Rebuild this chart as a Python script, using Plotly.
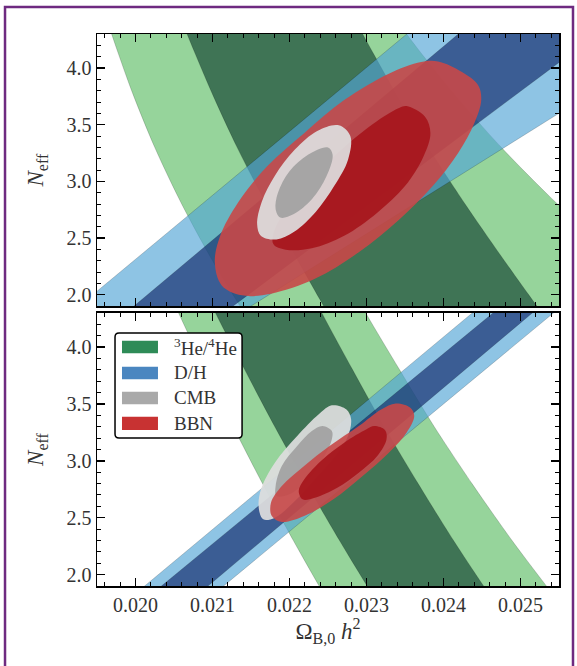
import plotly.graph_objects as go

# ---------------- data ----------------
X_RANGE = [0.0195, 0.0255]
Y_RANGE = [1.9, 4.3]
X_TICKS = [0.020, 0.021, 0.022, 0.023, 0.024, 0.025]
X_TICK_TEXT = ["0.020", "0.021", "0.022", "0.023", "0.024", "0.025"]
Y_TICKS = [2.0, 2.5, 3.0, 3.5, 4.0]
Y_TICK_TEXT = ["2.0", "2.5", "3.0", "3.5", "4.0"]

# band edges are sampled at these N_eff levels (top -> bottom)
EDGE_Y_DOWN = [4.8, 4.3, 3.8, 3.3, 2.8, 2.3, 1.8, 1.3]
EDGE_Y_UP = [1.3, 1.8, 2.3, 2.8, 3.3, 3.8, 4.3, 4.8]

# ---- top panel ----
# 3He/4He 2-sigma band (light green): left edge (top->bottom), right edge (bottom->top)
HE_TOP_OUT_LEFT_X = [0.01945, 0.01969, 0.01995, 0.02025, 0.02060, 0.02100, 0.02145, 0.02195]
HE_TOP_OUT_RIGHT_X = [0.02820, 0.02720, 0.02630, 0.02548, 0.02475, 0.02410, 0.02352, 0.02300]
# 3He/4He 1-sigma band (dark green)
HE_TOP_IN_LEFT_X = [0.02038, 0.02067, 0.02098, 0.02132, 0.02170, 0.02211, 0.02253, 0.02298]
HE_TOP_IN_RIGHT_X = [0.02588, 0.02532, 0.02479, 0.02428, 0.02380, 0.02336, 0.02295, 0.02256]
# D/H bands
DH_TOP_OUT_X = [0.01856, 0.02441, 0.02832, 0.02056]
DH_TOP_OUT_Y = [1.5, 4.8, 4.8, 1.5]
DH_TOP_IN_X = [0.01928, 0.02507, 0.02698, 0.02048]
DH_TOP_IN_Y = [1.5, 4.8, 4.8, 1.5]
# BBN ellipses
BBN_TOP_OUT_X = [0.02393, 0.02424, 0.02445, 0.02449, 0.02440, 0.02419, 0.02386,
                 0.02343, 0.02290, 0.02233, 0.02176, 0.02138, 0.02112, 0.02103,
                 0.02110, 0.02133, 0.02171, 0.02219, 0.02271, 0.02329, 0.02371, 0.02393]
BBN_TOP_OUT_Y = [4.058, 3.965, 3.848, 3.717, 3.512, 3.250, 2.958,
                 2.666, 2.374, 2.140, 2.009, 1.994, 2.082, 2.286,
                 2.520, 2.812, 3.133, 3.425, 3.717, 3.950, 4.053, 4.058]
BBN_TOP_IN_X = [0.02352, 0.02376, 0.02383, 0.02374, 0.02350, 0.02314, 0.02271,
                0.02229, 0.02195, 0.02179, 0.02181, 0.02203, 0.02240, 0.02281,
                0.02322, 0.02343, 0.02352]
BBN_TOP_IN_Y = [3.664, 3.570, 3.425, 3.220, 2.958, 2.724, 2.520,
                2.409, 2.397, 2.447, 2.578, 2.812, 3.100, 3.360,
                3.570, 3.650, 3.664]
# CMB ellipses
CMB_TOP_OUT_X = [0.02264, 0.02279, 0.02276, 0.02258, 0.02234, 0.02206, 0.02183,
                 0.02163, 0.02158, 0.02164, 0.02181, 0.02207, 0.02236, 0.02264]
CMB_TOP_OUT_Y = [3.495, 3.400, 3.191, 2.958, 2.730, 2.555, 2.487,
                 2.518, 2.620, 2.820, 3.050, 3.280, 3.445, 3.495]
CMB_TOP_IN_X = [0.02250, 0.02256, 0.02248, 0.02229, 0.02205, 0.02188, 0.02182,
                0.02185, 0.02200, 0.02224, 0.02250]
CMB_TOP_IN_Y = [3.299, 3.235, 3.045, 2.841, 2.709, 2.680, 2.753,
                2.899, 3.089, 3.235, 3.299]

# ---- bottom panel ----
HE_BOT_OUT_LEFT_X = [0.02024, 0.02056, 0.02091, 0.02127, 0.02165, 0.02205, 0.02247, 0.02291]
HE_BOT_OUT_RIGHT_X = [0.02603, 0.02545, 0.02489, 0.02437, 0.02388, 0.02343, 0.02299, 0.02258]
HE_BOT_IN_LEFT_X = [0.02070, 0.02104, 0.02142, 0.02181, 0.02222, 0.02265, 0.02310, 0.02357]
HE_BOT_IN_RIGHT_X = [0.02513, 0.02462, 0.02413, 0.02367, 0.02323, 0.02282, 0.02242, 0.02205]
DH_BOT_OUT_X = [0.01941, 0.02526, 0.02632, 0.02043]
DH_BOT_OUT_Y = [1.5, 4.8, 4.8, 1.5]
DH_BOT_IN_X = [0.01962, 0.02554, 0.02603, 0.02024]
DH_BOT_IN_Y = [1.5, 4.8, 4.8, 1.5]
CMB_BOT_OUT_X = [0.02255, 0.02274, 0.02280, 0.02276, 0.02260, 0.02233, 0.02205,
                 0.02181, 0.02166, 0.02160, 0.02163, 0.02181, 0.02210, 0.02238, 0.02255]
CMB_BOT_OUT_Y = [3.488, 3.452, 3.365, 3.218, 3.042, 2.837, 2.633,
                 2.501, 2.486, 2.589, 2.750, 2.984, 3.218, 3.409, 3.488]
CMB_BOT_IN_X = [0.02243, 0.02255, 0.02255, 0.02243, 0.02224, 0.02200, 0.02183,
                0.02182, 0.02190, 0.02210, 0.02229, 0.02243]
CMB_BOT_IN_Y = [3.306, 3.262, 3.189, 3.013, 2.837, 2.706, 2.691,
                2.779, 2.955, 3.130, 3.262, 3.306]
BBN_BOT_OUT_X = [0.02338, 0.02357, 0.02362, 0.02352, 0.02329, 0.02295, 0.02257,
                 0.02219, 0.02190, 0.02177, 0.02176, 0.02190, 0.02219, 0.02252,
                 0.02290, 0.02319, 0.02338]
BBN_BOT_OUT_Y = [3.505, 3.467, 3.394, 3.247, 3.072, 2.867, 2.662,
                 2.515, 2.463, 2.515, 2.633, 2.779, 2.955, 3.130,
                 3.306, 3.452, 3.505]
BBN_BOT_IN_X = [0.02310, 0.02324, 0.02326, 0.02314, 0.02290, 0.02262, 0.02233,
                0.02217, 0.02212, 0.02219, 0.02243, 0.02271, 0.02300, 0.02310]
BBN_BOT_IN_Y = [3.306, 3.271, 3.189, 3.042, 2.896, 2.764, 2.676,
                2.662, 2.735, 2.837, 3.013, 3.160, 3.277, 3.306]

LEGEND_LABELS = ["<sup>3</sup>He/<sup>4</sup>He", "D/H", "CMB", "BBN"]
LEGEND_COLORS = ["#2e8b57", "#4a86c0", "#a9a9a9", "#c83232"]

# ---------------- styles ----------------
C_HE_OUT = "rgba(86,186,93,0.62)"
C_HE_IN = "rgba(17,65,48,0.65)"
C_DH_OUT = "rgba(81,164,213,0.65)"
C_DH_IN = "rgba(16,39,105,0.65)"
C_BBN_OUT = "rgba(200,72,72,0.9)"
C_BBN_IN = "rgba(166,22,28,0.92)"
C_CMB_OUT = "rgba(222,222,222,0.93)"
C_CMB_IN = "rgba(160,160,160,0.9)"
EDGE = dict(color="rgba(0,0,0,0.22)", width=0.8)

fig = go.Figure()


def band(x, y, color, xa, ya, smooth=False):
    line = dict(EDGE)
    if smooth:
        line.update(shape="spline", smoothing=0.8)
    fig.add_trace(go.Scatter(x=x, y=y, fill="toself", fillcolor=color, mode="lines",
                             line=line, xaxis=xa, yaxis=ya, showlegend=False,
                             hoverinfo="skip"))


def curved_band(left_x, right_x, color, xa, ya):
    band(left_x + right_x, EDGE_Y_DOWN + EDGE_Y_UP, color, xa, ya, smooth=True)


def blob(x, y, color, xa, ya):
    fig.add_trace(go.Scatter(x=x, y=y, fill="toself", fillcolor=color, mode="lines",
                             line=dict(color="rgba(0,0,0,0)", width=0, shape="spline",
                                       smoothing=1.0),
                             xaxis=xa, yaxis=ya, showlegend=False, hoverinfo="skip"))


# top panel
curved_band(HE_TOP_OUT_LEFT_X, HE_TOP_OUT_RIGHT_X, C_HE_OUT, "x", "y")
curved_band(HE_TOP_IN_LEFT_X, HE_TOP_IN_RIGHT_X, C_HE_IN, "x", "y")
band(DH_TOP_OUT_X, DH_TOP_OUT_Y, C_DH_OUT, "x", "y")
band(DH_TOP_IN_X, DH_TOP_IN_Y, C_DH_IN, "x", "y")
blob(BBN_TOP_OUT_X, BBN_TOP_OUT_Y, C_BBN_OUT, "x", "y")
blob(BBN_TOP_IN_X, BBN_TOP_IN_Y, C_BBN_IN, "x", "y")
blob(CMB_TOP_OUT_X, CMB_TOP_OUT_Y, C_CMB_OUT, "x", "y")
blob(CMB_TOP_IN_X, CMB_TOP_IN_Y, C_CMB_IN, "x", "y")

# bottom panel
curved_band(HE_BOT_OUT_LEFT_X, HE_BOT_OUT_RIGHT_X, C_HE_OUT, "x2", "y2")
curved_band(HE_BOT_IN_LEFT_X, HE_BOT_IN_RIGHT_X, C_HE_IN, "x2", "y2")
band(DH_BOT_OUT_X, DH_BOT_OUT_Y, C_DH_OUT, "x2", "y2")
band(DH_BOT_IN_X, DH_BOT_IN_Y, C_DH_IN, "x2", "y2")
blob(CMB_BOT_OUT_X, CMB_BOT_OUT_Y, C_CMB_OUT, "x2", "y2")
blob(CMB_BOT_IN_X, CMB_BOT_IN_Y, C_CMB_IN, "x2", "y2")
blob(BBN_BOT_OUT_X, BBN_BOT_OUT_Y, C_BBN_OUT, "x2", "y2")
blob(BBN_BOT_IN_X, BBN_BOT_IN_Y, C_BBN_IN, "x2", "y2")

FONT = "Liberation Serif, DejaVu Serif, serif"
TXT = "#333333"

xcommon = dict(range=X_RANGE, tickvals=X_TICKS, ticktext=X_TICK_TEXT,
               showline=True, linecolor="black", linewidth=1.5, mirror="allticks",
               ticks="inside", ticklen=8, tickwidth=1.3, tickcolor="black",
               showgrid=False, zeroline=False,
               minor=dict(ticks="inside", ticklen=4, tickwidth=1, tickcolor="black",
                          dtick=0.0002, tick0=0.02, showgrid=False),
               tickfont=dict(family=FONT, size=20, color=TXT))
ycommon = dict(range=Y_RANGE, tickvals=Y_TICKS, ticktext=Y_TICK_TEXT,
               showline=True, linecolor="black", linewidth=1.5, mirror="allticks",
               ticks="inside", ticklen=8, tickwidth=1.3, tickcolor="black",
               showgrid=False, zeroline=False,
               minor=dict(ticks="inside", ticklen=4, tickwidth=1, tickcolor="black",
                          dtick=0.1, tick0=2.0, showgrid=False),
               tickfont=dict(family=FONT, size=20, color=TXT),
               title=dict(text="<i>N</i><sub>eff</sub>",
                          font=dict(family=FONT, size=23, color=TXT), standoff=16))

fig.update_layout(
    width=577, height=666,
    paper_bgcolor="white", plot_bgcolor="white",
    margin=dict(l=97, r=18, t=34, b=80),
    showlegend=False,
    xaxis=dict(xcommon, domain=[0, 1], anchor="y", showticklabels=False),
    yaxis=dict(ycommon, domain=[0.5072, 1], anchor="x"),
    xaxis2=dict(xcommon, domain=[0, 1], anchor="y2", matches="x",
                title=dict(text="Ω<sub>B,0</sub> <i>h</i><sup>2</sup>",
                           font=dict(family=FONT, size=23, color=TXT), standoff=8)),
    yaxis2=dict(ycommon, domain=[0, 0.4946], anchor="x2"),
)

shapes = []
annotations = []
# legend box (bottom panel, upper left), slightly rounded corners
bx0, bx1, by0, by1 = 0.039, 0.314, 0.2681, 0.4583
rx, ry = 4 / 462, 4 / 552
path = (f"M{bx0 + rx},{by0} L{bx1 - rx},{by0} Q{bx1},{by0} {bx1},{by0 + ry} "
        f"L{bx1},{by1 - ry} Q{bx1},{by1} {bx1 - rx},{by1} L{bx0 + rx},{by1} "
        f"Q{bx0},{by1} {bx0},{by1 - ry} L{bx0},{by0 + ry} Q{bx0},{by0} {bx0 + rx},{by0} Z")
shapes.append(dict(type="path", xref="paper", yref="paper", path=path,
                   line=dict(color="black", width=1.5), fillcolor="white", layer="above"))
patch_y = [(0.4216, 0.4444), (0.3745, 0.3973), (0.3292, 0.3520), (0.2826, 0.3067)]
for (y0, y1), col, lab in zip(patch_y, LEGEND_COLORS, LEGEND_LABELS):
    shapes.append(dict(type="rect", xref="paper", yref="paper", x0=0.0541, x1=0.1320,
                       y0=y0, y1=y1, line=dict(width=0), fillcolor=col, layer="above"))
    annotations.append(dict(xref="paper", yref="paper", x=0.1617, y=(y0 + y1) / 2,
                            text=lab, showarrow=False, xanchor="left", yanchor="middle",
                            font=dict(family=FONT, size=19, color=TXT)))
# purple frame around the figure
shapes.append(dict(type="rect", xref="paper", yref="paper", x0=-0.1991, x1=1.0303,
                   y0=-0.152, y1=1.0489, line=dict(color="#6e2a80", width=2.5),
                   layer="above"))
fig.update_layout(shapes=shapes, annotations=annotations)

fig.write_html("out.html",
               config={"displayModeBar": False, "staticPlot": True},
               post_script="document.body.style.margin='0';"
                           "document.body.style.overflow='hidden';")
